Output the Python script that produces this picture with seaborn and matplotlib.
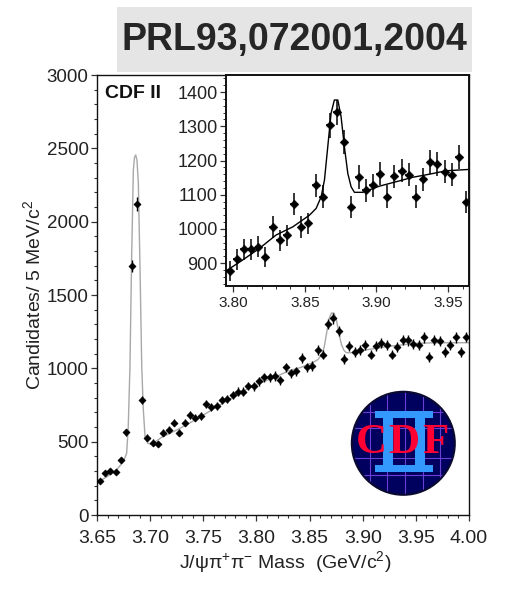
import numpy as np
import pandas as pd
import matplotlib
matplotlib.use("Agg")
import matplotlib.pyplot as plt
from matplotlib.patches import Rectangle, Circle
from matplotlib.ticker import MultipleLocator, FormatStrFormatter
import seaborn as sns

# J/psi pi+ pi- invariant mass spectrum, 5 MeV/c^2 bins from 3.65 to 4.00 GeV/c^2
bin_width = 0.005
mass = np.round(3.65 + bin_width * (np.arange(70) + 0.5), 4)
counts = [232, 284, 300, 295, 375, 564, 1700, 2120, 784, 527,
          493, 484, 561, 580, 629, 561, 629, 682, 664, 675,
          757, 734, 743, 784, 789, 818, 841, 841, 880, 877,
          911, 940, 940, 948, 918, 1006, 967, 981, 1072, 1006,
          1016, 1128, 1094, 1303, 1341, 1255, 1065, 1152, 1113, 1128,
          1162, 1094, 1154, 1170, 1159, 1094, 1145, 1195, 1190, 1167,
          1159, 1211, 1079, 1193, 1189, 1114, 1159, 1211, 1114, 1216]

# Fitted signal + background curve
fit_mass = [3.6500, 3.6669, 3.6748, 3.6779, 3.6794, 3.6810, 3.6826, 3.6842,
            3.6853, 3.6864, 3.6876, 3.6889, 3.6905, 3.6921, 3.6936, 3.6952,
            3.6977, 3.7015, 3.7109, 3.7265, 3.7422, 3.7680, 3.7961, 3.8066,
            3.8183, 3.8299, 3.8416, 3.8532, 3.8579, 3.8614, 3.8637, 3.8660,
            3.8683, 3.8706, 3.8730, 3.8753, 3.8776, 3.8800, 3.8823, 3.8846,
            3.8904, 3.9020, 3.9137, 3.9253, 3.9369, 3.9485, 3.9648, 4.0000]
fit_counts = [220, 295, 364, 421, 602, 1011, 1761, 2352,
              2440, 2455, 2420, 2262, 1670, 1011, 716, 534,
              489, 482, 530, 585, 648, 760, 880, 909,
              943, 982, 1006, 1040, 1060, 1094, 1143, 1240,
              1338, 1377, 1377, 1328, 1240, 1162, 1123, 1107,
              1107, 1125, 1138, 1151, 1160, 1170, 1174, 1175]

data = pd.DataFrame({"mass": mass, "counts": counts})
data["err"] = np.sqrt(data["counts"])
fit = pd.DataFrame({"mass": fit_mass, "counts": fit_counts})

sns.set_style("ticks")
plt.rcParams["font.family"] = ["Liberation Sans", "DejaVu Sans"]
plt.rcParams["mathtext.fontset"] = "custom"
plt.rcParams["mathtext.rm"] = "Liberation Sans"
plt.rcParams["mathtext.it"] = "Liberation Sans:italic"
plt.rcParams["mathtext.bf"] = "Liberation Sans:bold"

TXT = "#222222"
fig = plt.figure(figsize=(5.06, 5.89), dpi=100)

# ---------------- main panel ----------------
ax = fig.add_axes([0.1917, 0.1256, 0.7352, 0.7470])
sns.lineplot(data=fit, x="mass", y="counts", color="#a8a8a8", lw=1.0,
             sort=False, estimator=None, ax=ax, zorder=2)
ax.errorbar(data["mass"], data["counts"], yerr=data["err"], xerr=bin_width / 2,
            fmt="none", ecolor="black", elinewidth=1.0, capsize=0, zorder=3)
sns.scatterplot(data=data, x="mass", y="counts", marker="D", s=14,
                color="black", edgecolor="black", linewidth=0.3, ax=ax, zorder=4)

ax.set_xlim(3.65, 4.00)
ax.set_ylim(0, 3000)
ax.xaxis.set_major_locator(MultipleLocator(0.05))
ax.xaxis.set_minor_locator(MultipleLocator(0.01))
ax.xaxis.set_major_formatter(FormatStrFormatter("%.2f"))
ax.yaxis.set_major_locator(MultipleLocator(500))
ax.yaxis.set_minor_locator(MultipleLocator(100))
ax.tick_params(which="major", direction="out", length=4, width=0.9,
               color="#333333", labelcolor=TXT)
ax.tick_params(axis="x", which="major", labelsize=14, pad=7)
ax.tick_params(axis="y", which="major", labelsize=13.5, pad=2)
ax.tick_params(which="minor", direction="out", length=2.5, width=0.8, color="#333333")
for sp in ax.spines.values():
    sp.set_linewidth(1.0)
    sp.set_color("#111111")

ax.set_xlabel("J/ψπ$^{+}$π$^{-}$ Mass  (GeV/c$^{2}$)", fontsize=14, color=TXT)
ax.set_ylabel("Candidates/ 5 MeV/c$^{2}$", fontsize=14, color=TXT)
ax.xaxis.set_label_coords(0.505, -0.078)
ax.yaxis.set_label_coords(-0.142, 0.5)

ax.text(0.022, 0.978, "CDF II", transform=ax.transAxes, ha="left", va="top",
        fontsize=14, fontweight="bold", color="#111111")

# ---------------- inset: X(3872) region ----------------
ins = fig.add_axes([0.4466, 0.5144, 0.4802, 0.3582])
ins.set_facecolor("white")
sns.lineplot(data=fit, x="mass", y="counts", color="black", lw=1.0,
             sort=False, estimator=None, ax=ins, zorder=2)
ins.errorbar(data["mass"], data["counts"], yerr=data["err"], xerr=bin_width / 2,
             fmt="none", ecolor="black", elinewidth=1.1, capsize=0, zorder=3)
sns.scatterplot(data=data, x="mass", y="counts", marker="D", s=20,
                color="black", edgecolor="black", linewidth=0.3, ax=ins, zorder=4)
ins.set_xlim(3.795, 3.9645)
ins.set_ylim(833, 1450)
ins.set_xlabel("")
ins.set_ylabel("")
ins.xaxis.set_major_locator(MultipleLocator(0.05))
ins.xaxis.set_minor_locator(MultipleLocator(0.01))
ins.xaxis.set_major_formatter(FormatStrFormatter("%.2f"))
ins.yaxis.set_major_locator(MultipleLocator(100))
ins.yaxis.set_minor_locator(MultipleLocator(20))
ins.yaxis.set_major_formatter(FormatStrFormatter("%d"))
ins.tick_params(which="major", direction="out", length=4, width=0.9,
                color="#333333", labelcolor=TXT)
ins.tick_params(axis="x", which="major", labelsize=11, pad=3)
ins.tick_params(axis="y", which="major", labelsize=13, pad=2)
ins.tick_params(which="minor", direction="out", length=2, width=0.7, color="#333333")
for sp in ins.spines.values():
    sp.set_linewidth(1.4)
    sp.set_color("#111111")

# ---------------- CDF logo ----------------
logo = fig.add_axes([0.6864, 0.1523, 0.2213, 0.1902])
logo.set_xlim(-56, 56)
logo.set_ylim(-56, 56)
logo.axis("off")
disk = Circle((0, 0), 51.5, facecolor="#00005e", edgecolor="#0a0a30", lw=1.5, zorder=1)
logo.add_patch(disk)
clip = Circle((0, 0), 50.5, transform=logo.transData)
for v in (-33, -16, 2, 20, 37):
    ln, = logo.plot([v, v], [-60, 60], color="#6b3fd6", lw=0.8, zorder=2)
    ln.set_clip_path(clip)
for h in (31, 15, -15, -32):
    ln, = logo.plot([-60, 60], [h, h], color="#6b3fd6", lw=0.8, zorder=2)
    ln.set_clip_path(clip)
blue = "#3399ff"
for rect in (Rectangle((-28.5, 25.5), 58.5, 6.5),
             Rectangle((-28.5, -28.5), 58.5, 6.5),
             Rectangle((-20.5, -28), 10.5, 59),
             Rectangle((11.5, -28), 10.5, 59)):
    rect.set(facecolor=blue, edgecolor="none", zorder=3)
    logo.add_patch(rect)
for letter, dx in (("C", -31.5), ("D", 0.7), ("F", 32.5)):
    logo.text(dx, 0.5, letter, ha="center", va="center", fontsize=31,
              fontweight="bold", color="#ff0033", zorder=4,
              family=["Liberation Serif", "DejaVu Serif"])

# ---------------- reference banner ----------------
fig.patches.append(Rectangle((0.2312, 0.8778), 0.7016, 0.1104,
                             transform=fig.transFigure, facecolor="#e5e5e5",
                             edgecolor="none", zorder=0))
fig.text(0.582, 0.932, "PRL93,072001,2004", ha="center", va="center",
         fontsize=27, fontweight="bold", color="#262626")

fig.savefig("out.png", dpi=100)
